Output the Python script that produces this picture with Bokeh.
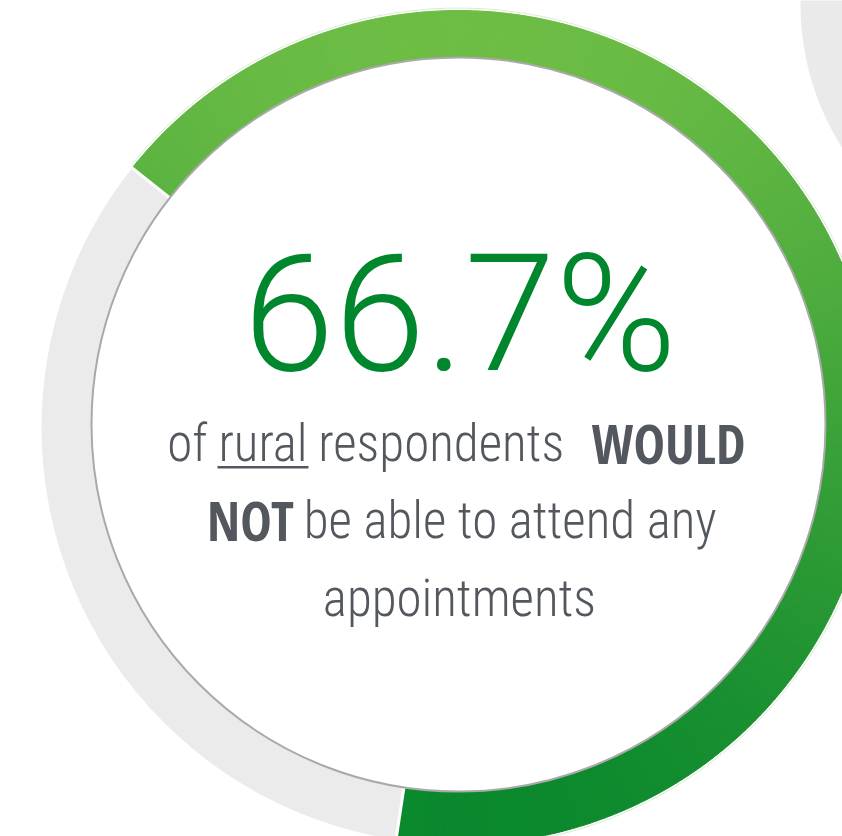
import numpy as np
from bokeh.plotting import figure
from bokeh.models import Range1d
from bokeh.core.properties import value
from bokeh.embed import file_html
from bokeh.resources import INLINE

# ---------------- data ----------------
categories = ["Would NOT be able to attend", "Other respondents"]
shares = [66.7, 33.3]                     # percent of rural respondents
headline = f"{shares[0]}%"

line1_words = ["of", "rural", "respondents", "WOULD"]
line2_words = ["NOT", "be able to attend any"]
line3_words = ["appointments"]

# ---------------- layout (reference pixel coordinates) ----------------
W, H = 842, 836
BASE_FIX = 0.33          # svg text sits ~0.33 em low; compensate


def Y(y_ref):
    return H - y_ref


def TY(baseline_ref, size_px):
    return Y(baseline_ref) + BASE_FIX * size_px


ring_cx, ring_cy = 458, Y(427)
ring_r_out, ring_r_in = 417, 358
disc_cx, disc_cy, disc_r = 458, Y(424), 367
start_deg = 141.5

GRAY_RING = "#ebebeb"
TEXT_GRAY = "#53575e"
PCT_GREEN = "#00872d"
C_TOP = np.array([113, 191, 70])
C_BOT = np.array([8, 135, 44])

p = figure(width=W, height=H, x_range=Range1d(0, W), y_range=Range1d(0, H),
           output_backend="svg", toolbar_location=None, min_border=0,
           x_axis_location=None, y_axis_location=None,
           outline_line_color=None, background_fill_color="white",
           border_fill_color="white")
p.grid.grid_line_color = None

# neighbouring ring peeking in at top right
p.annulus(x=[1068], y=[Y(4)], inner_radius=220, outer_radius=268,
          fill_color="#eaeaea", line_color=None)

# full gray track
p.annulus(x=[ring_cx], y=[ring_cy], inner_radius=ring_r_in, outer_radius=ring_r_out,
          fill_color=GRAY_RING, line_color=None)

# green arc with vertical gradient, built from the share value
end_deg = start_deg - 360.0 * shares[0] / 100.0
n_seg = 240
angles = np.linspace(start_deg, end_deg, n_seg + 1)
a_hi = np.radians(angles[:-1])
a_lo = np.radians(angles[1:])
mid = (a_hi + a_lo) / 2
y_ref_mid = 427 - 388 * np.sin(mid)
t = np.clip((y_ref_mid - 10) / (836 - 10), 0, 1)
cols = []
for ti in t:
    c = (C_TOP + ti * (C_BOT - C_TOP)).round().astype(int)
    cols.append("#%02x%02x%02x" % tuple(c))
p.annular_wedge(x=ring_cx, y=ring_cy, inner_radius=ring_r_in, outer_radius=ring_r_out,
                start_angle=list(a_lo), end_angle=list(a_hi),
                fill_color=cols, line_color=cols, line_width=1)

# faint glow line along the green arc
p.arc(x=[ring_cx], y=[ring_cy], radius=ring_r_out + 2.5,
      start_angle=np.radians(end_deg), end_angle=np.radians(start_deg),
      line_color="#d9eecf", line_width=1)

# white separators at both ends of the green arc
sep = np.radians([start_deg, end_deg])
p.segment(x0=ring_cx + ring_r_in * np.cos(sep), y0=ring_cy + ring_r_in * np.sin(sep),
          x1=ring_cx + (ring_r_out + 4) * np.cos(sep), y1=ring_cy + (ring_r_out + 4) * np.sin(sep),
          line_color="white", line_width=3)

# white centre disc with soft gray rim
p.circle(x=[disc_cx], y=[disc_cy], radius=disc_r, fill_color="white",
         line_color="#a9a9a9", line_width=2)

# headline percentage
pct_size = 164
p.text(x=[459.5], y=[TY(367.5, pct_size)], text=[headline],
       text_font=value("Roboto Light, Roboto"),
       text_font_size=f"{pct_size}px", text_color=PCT_GREEN,
       text_align="center", text_baseline="alphabetic")

body_font = value("Roboto Condensed Light, Roboto Condensed")
bold_font = value("Open Sans Condensed, Roboto Condensed")
bs, bb = 51, 53
fs, fb = f"{bs}px", f"{bb}px"

# line 1
p.text(x=[187, 262.5, 440.7], y=[TY(460, bs)] * 3, text=line1_words[:3],
       text_font=body_font, text_font_size=fs, text_color=TEXT_GRAY,
       text_align="center", text_baseline="alphabetic")
p.text(x=[668], y=[TY(460, bb)], text=[line1_words[3]],
       text_font=bold_font, text_font_size=fb, text_font_style="bold",
       text_color=TEXT_GRAY, text_align="center", text_baseline="alphabetic")
# underline under "rural"
p.segment(x0=[217], y0=[Y(466.7)], x1=[308], y1=[Y(466.7)],
          line_color=TEXT_GRAY, line_width=2.5)

# line 2
p.text(x=[250], y=[TY(537.3, bb)], text=[line2_words[0]],
       text_font=bold_font, text_font_size=fb, text_font_style="bold",
       text_color=TEXT_GRAY, text_align="center", text_baseline="alphabetic")
p.text(x=[509.7], y=[TY(537.3, bs)], text=[line2_words[1]],
       text_font=body_font, text_font_size=fs, text_color=TEXT_GRAY,
       text_align="center", text_baseline="alphabetic")

# line 3
p.text(x=[459], y=[TY(614.7, bs)], text=line3_words,
       text_font=body_font, text_font_size=fs, text_color=TEXT_GRAY,
       text_align="center", text_baseline="alphabetic")

open("out.html", "w").write(file_html(p, INLINE))
